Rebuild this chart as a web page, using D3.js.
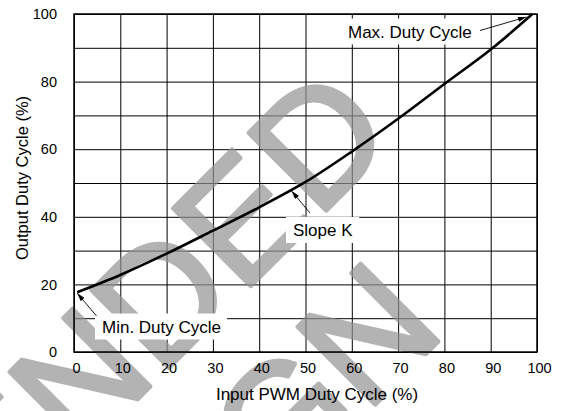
<!DOCTYPE html>
<html><head><meta charset="utf-8">
<script src="https://cdn.jsdelivr.net/npm/d3@7"></script>
<style>
html,body{margin:0;padding:0;background:#fff;}
svg{display:block;font-family:"Liberation Sans",Arial,Helvetica,sans-serif;}
</style></head>
<body>
<svg id="chart" width="565" height="411"></svg>
<script>
// ---- data ----
const inputDuty  = [0.7, 10, 20, 30, 40, 50, 60, 70, 80, 90, 99];
const outputDuty = [17.7, 22.8, 29.1, 35.9, 42.8, 50.3, 59.3, 69.0, 79.3, 89.5, 100];
const xTickValues = [0, 10, 20, 30, 40, 50, 60, 70, 80, 90, 100];
const yTickValues = [0, 20, 40, 60, 80, 100];
const yGridValues = [0, 10, 20, 30, 40, 50, 60, 70, 80, 90, 100];
const xTitle = "Input PWM Duty Cycle (%)";
const yTitle = "Output Duty Cycle (%)";
const annotations = [
  {text: "Max. Duty Cycle", at: [99, 100]},
  {text: "Slope K", at: [47, 47.9]},
  {text: "Min. Duty Cycle", at: [0.7, 17.7]}
];
const watermarkLines = ["NOT RECOMMENDED", "FOR NEW DESIGN"];

// ---- layout ----
const svg = d3.select("#chart");
const L = 74, R = 537, T = 14, B = 352;
const x = d3.scaleLinear().domain([0, 100]).range([L, R]);
const y = d3.scaleLinear().domain([0, 100]).range([B, T]);

svg.append("rect").attr("width", 565).attr("height", 411).attr("fill", "#fff");

// grid
svg.append("g").attr("transform", `translate(0,${B})`)
  .call(d3.axisBottom(x).tickValues(xTickValues).tickSize(-(B - T)).tickFormat(""))
  .call(g => g.select(".domain").remove())
  .call(g => g.selectAll("line").attr("stroke", "#000").attr("stroke-width", 1));
svg.append("g").attr("transform", `translate(${L},0)`)
  .call(d3.axisLeft(y).tickValues(yGridValues).tickSize(-(R - L)).tickFormat(""))
  .call(g => g.select(".domain").remove())
  .call(g => g.selectAll("line").attr("stroke", "#000").attr("stroke-width", 1));

// watermark
const wm = svg.append("g").attr("transform", "translate(-173.5,710.5) rotate(-45)")
  .attr("fill", "#939393").attr("opacity", 0.7);
wm.selectAll("text").data(watermarkLines).join("text")
  .attr("x", (d, i) => i === 0 ? -25 : 0).attr("y", (d, i) => i * 172)
  .attr("text-anchor", "middle")
  .attr("font-size", 160)
  .attr("stroke", "#939393").attr("stroke-width", 4).attr("stroke-linejoin", "round")
  .text(d => d);

// frame
svg.append("rect").attr("x", L).attr("y", T).attr("width", R - L).attr("height", B - T)
  .attr("fill", "none").attr("stroke", "#000").attr("stroke-width", 1.5);

// tick labels via axes
svg.append("g").attr("transform", `translate(2,${B})`)
  .call(d3.axisBottom(x).tickValues(xTickValues).tickSize(0).tickPadding(11).tickFormat(d3.format("d")))
  .call(g => g.select(".domain").remove())
  .call(g => g.selectAll("text").attr("font-size", 14.5).attr("fill", "#000")
    .attr("font-family", "'Liberation Sans',Arial,sans-serif"));
svg.append("g").attr("transform", `translate(${L},0)`)
  .call(d3.axisLeft(y).tickValues(yTickValues).tickSize(0).tickPadding(17).tickFormat(d3.format("d")))
  .call(g => g.select(".domain").remove())
  .call(g => g.selectAll("text").attr("font-size", 14.5).attr("fill", "#000")
    .attr("font-family", "'Liberation Sans',Arial,sans-serif"));

// axis titles
svg.append("text").attr("x", 317).attr("y", 400).attr("text-anchor", "middle")
  .attr("font-size", 17).text(xTitle);
svg.append("text").attr("transform", "translate(27.5,178) rotate(-90)").attr("text-anchor", "middle")
  .attr("font-size", 16.5).text(yTitle);

// curve
const pts = inputDuty.map((v, i) => [v, outputDuty[i]]);
svg.append("path").datum(pts)
  .attr("fill", "none").attr("stroke", "#000").attr("stroke-width", 2.6)
  .attr("d", d3.line().x(d => x(d[0])).y(d => y(d[1])).curve(d3.curveCatmullRom.alpha(0.5)));

// arrow marker
svg.append("defs").append("marker").attr("id", "ah")
  .attr("viewBox", "0 0 10 6").attr("refX", 10).attr("refY", 3)
  .attr("markerWidth", 9).attr("markerHeight", 5).attr("markerUnits", "userSpaceOnUse")
  .attr("orient", "auto")
  .append("path").attr("d", "M0,0 L10,3 L0,6 Z").attr("fill", "#000");

// annotation placements (label text position + arrow tail) in pixels
const annoPos = [
  {tx: 348, ty: 37.5, tail: [480, 30.5], tip: [-6, 3]},
  {tx: 293, ty: 236, tail: [310, 213], tip: [0, 1]},
  {tx: 102, ty: 332.5, tail: [96.5, 316], tip: [0, 1]}
];
annotations.forEach((a, i) => {
  const p = annoPos[i];
  const g = svg.append("g");
  const rect = g.append("rect").attr("fill", "#fff");
  const t = g.append("text").attr("x", p.tx).attr("y", p.ty).attr("font-size", 17).text(a.text);
  const bb = t.node().getBBox();
  rect.attr("x", bb.x - 7).attr("y", bb.y - 4).attr("width", bb.width + 13).attr("height", bb.height + 7);
  svg.append("line")
    .attr("x1", p.tail[0]).attr("y1", p.tail[1])
    .attr("x2", x(a.at[0]) + p.tip[0]).attr("y2", y(a.at[1]) + p.tip[1])
    .attr("stroke", "#000").attr("stroke-width", 0.9)
    .attr("marker-end", "url(#ah)");
});
</script>
</body></html>
